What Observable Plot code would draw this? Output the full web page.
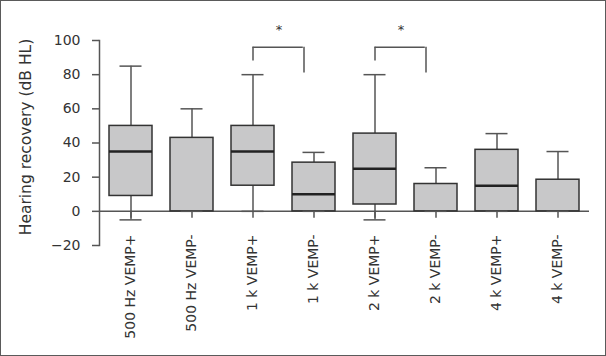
<!DOCTYPE html>
<html><head><meta charset="utf-8">
<script src="https://cdn.jsdelivr.net/npm/d3@7"></script>
<script src="https://cdn.jsdelivr.net/npm/@observablehq/plot@0.6"></script>
<style>
body{margin:0;background:#fff}
#fig{width:606px;height:356px;box-sizing:border-box;border:1px solid #5a5a5a;background:#fff;overflow:hidden}
</style></head><body><div id="fig"></div>
<script>
const categories = ["500 Hz VEMP+","500 Hz VEMP-","1 k VEMP+","1 k VEMP-","2 k VEMP+","2 k VEMP-","4 k VEMP+","4 k VEMP-"];
const whiskerLow  = [-5, 0, 0, 0, -5, 0, 0, 0];
const q1          = [9, 0, 15, 0, 4, 0, 0, 0];
const median      = [35, 0, 35, 10, 25, 0, 15, 0];
const q3          = [50, 43, 50, 28.5, 45.5, 16, 36, 18.5];
const whiskerHigh = [85, 60, 80, 34.5, 80, 25.5, 45.5, 35];
const yTicks = [-20, 0, 20, 40, 60, 80, 100];
const yLabel = "Hearing recovery (dB HL)";
// significance brackets
const sigLeft  = ["1 k VEMP+", "2 k VEMP+"];
const sigRight = ["1 k VEMP-", "2 k VEMP-"];
const sigTop   = [96, 96];
const sigLeftEnd  = [88, 88];
const sigRightEnd = [81, 81];
const sigMark = ["*", "*"];

const rows = categories.map((c, i) => ({cat: c, lo: whiskerLow[i], q1: q1[i], med: median[i], q3: q3[i], hi: whiskerHigh[i]}));
const sig = sigLeft.map((a, i) => ({a, b: sigRight[i], top: sigTop[i], la: sigLeftEnd[i], lb: sigRightEnd[i], mark: sigMark[i]}));

const chart = Plot.plot({
  width: 604, height: 354,
  marginLeft: 98, marginRight: 16, marginTop: 39, marginBottom: 110,
  style: {fontFamily: "DejaVu Sans", fontSize: "14px", color: "#333", background: "#fff", overflow: "visible"},
  x: {domain: categories, paddingInner: 0.3, paddingOuter: 0.155, axis: null},
  y: {domain: [-20, 100], axis: null},
  marks: [
    Plot.frame({anchor: "left", stroke: "#555", strokeWidth: 1.5}),
    Plot.axisY({ticks: yTicks, tickSize: 7, tickPadding: 12, stroke: "#555", strokeWidth: 1.5, fontSize: 14, label: null}),
    Plot.text([yLabel], {text: d => d, frameAnchor: "left", textAnchor: "middle", rotate: -90, dx: -73, dy: -6, fontSize: 15.5, fill: "#333"}),
    Plot.axisX({tickSize: 0, tickPadding: -11, tickRotate: -90, fontSize: 14, label: null}),
    Plot.ruleY([0], {stroke: "#555", strokeWidth: 1.5}),
    Plot.ruleX(rows, {x: "cat", y1: 0, y2: 0, insetBottom: -7, stroke: "#555", strokeWidth: 1.5}),
    Plot.ruleX(rows, {x: "cat", y1: "q3", y2: "hi", stroke: "#555", strokeWidth: 1.5}),
    Plot.ruleX(rows, {x: "cat", y1: "lo", y2: "q1", stroke: "#555", strokeWidth: 1.5}),
    Plot.barY(rows, {x: "cat", y1: "q1", y2: "q3", fill: "#c8c8c9", stroke: "#333", strokeWidth: 1.5}),
    Plot.tickY(rows, {filter: d => d.med > d.q1, x: "cat", y: "med", stroke: "#222", strokeWidth: 2.5}),
    Plot.tickY(rows, {x: "cat", y: "hi", stroke: "#555", strokeWidth: 1.5, insetLeft: 10.5, insetRight: 10.5}),
    Plot.tickY(rows, {x: "cat", y: "lo", stroke: "#555", strokeWidth: 1.5, insetLeft: 10.5, insetRight: 10.5}),
    // brackets
    Plot.ruleX(sig, {x: "a", y1: "la", y2: "top", stroke: "#555", strokeWidth: 1.5}),
    Plot.ruleX(sig, {x: "b", y1: "lb", y2: "top", dx: -10, stroke: "#555", strokeWidth: 1.5}),
    Plot.ruleY(sig, {x1: "a", x2: "b", y: "top", insetLeft: 21.5, insetRight: 32.2, stroke: "#555", strokeWidth: 1.5}),
    Plot.text(sig, {x: "a", y: "top", text: "mark", dx: 26, dy: -18, fontSize: 13, fill: "#333"})
  ]
});
document.getElementById("fig").appendChild(chart);
</script>
</body></html>
